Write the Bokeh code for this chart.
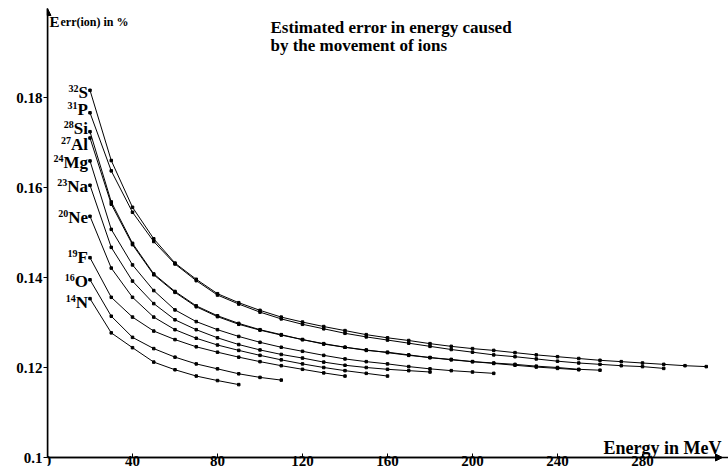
from bokeh.plotting import figure
from bokeh.models import Range1d, FixedTicker, Label, Arrow, NormalHead
from bokeh.embed import file_html
from bokeh.resources import INLINE
from bokeh.core.properties import value

FONT = "Liberation Serif"

# ---------------- data ----------------
x_ticks = [0, 40, 80, 120, 160, 200, 240, 280]
y_ticks = [0.1, 0.12, 0.14, 0.16, 0.18]
y_tick_labels = ["0.1", "0.12", "0.14", "0.16", "0.18"]

masses = ["14", "16", "19", "20", "23", "24", "27", "28", "31", "32"]
symbols = ["N", "O", "F", "Ne", "Na", "Mg", "Al", "Si", "P", "S"]

energy_N14 = [20, 30, 40, 50, 60, 70, 80, 90]
err_N14 = [0.1353, 0.1277, 0.1244, 0.1212, 0.1195, 0.1181, 0.1171, 0.1162]

energy_O16 = [20, 30, 40, 50, 60, 70, 80, 90, 100, 110]
err_O16 = [0.1395, 0.1314, 0.1267, 0.1242, 0.1223, 0.1208, 0.1197, 0.1186, 0.1178, 0.1172]

energy_F19 = [20, 30, 40, 50, 60, 70, 80, 90, 100, 110, 120, 130, 140]
err_F19 = [0.1444, 0.1356, 0.1312, 0.1281, 0.1262, 0.1246, 0.1234, 0.1223, 0.1213, 0.1204,
           0.1196, 0.1188, 0.1181]

energy_Ne20 = [20, 30, 40, 50, 60, 70, 80, 90, 100, 110, 120, 130, 140, 150, 160]
err_Ne20 = [0.1536, 0.1421, 0.1356, 0.1312, 0.1284, 0.1265, 0.1250, 0.1238, 0.1227, 0.1217,
            0.1208, 0.1200, 0.1193, 0.1187, 0.1181]

energy_Na23 = [20, 30, 40, 50, 60, 70, 80, 90, 100, 110, 120, 130, 140, 150, 160, 170, 180]
err_Na23 = [0.1605, 0.1467, 0.1392, 0.1342, 0.1306, 0.1284, 0.1266, 0.1251, 0.1239, 0.1229,
            0.1221, 0.1212, 0.1205, 0.1200, 0.1196, 0.1193, 0.1190]

energy_Mg24 = [20, 30, 40, 50, 60, 70, 80, 90, 100, 110, 120, 130, 140, 150, 160, 170, 180,
               190, 200, 210]
err_Mg24 = [0.1659, 0.1507, 0.1428, 0.1371, 0.1328, 0.1302, 0.1284, 0.1269, 0.1256, 0.1245,
            0.1236, 0.1227, 0.1219, 0.1213, 0.1208, 0.1202, 0.1197, 0.1193, 0.1190, 0.1187]

energy_Al27 = [20, 30, 40, 50, 60, 70, 80, 90, 100, 110, 120, 130, 140, 150, 160, 170, 180,
               190, 200, 210, 220, 230, 240, 250]
err_Al27 = [0.1710, 0.1563, 0.1473, 0.1406, 0.1367, 0.1335, 0.1313, 0.1296, 0.1283, 0.1272,
            0.1262, 0.1252, 0.1245, 0.1238, 0.1234, 0.1228, 0.1222, 0.1217, 0.1213, 0.1209,
            0.1205, 0.1201, 0.1198, 0.1195]

energy_Si28 = [20, 30, 40, 50, 60, 70, 80, 90, 100, 110, 120, 130, 140, 150, 160, 170, 180,
               190, 200, 210, 220, 230, 240, 250, 260]
err_Si28 = [0.1724, 0.1568, 0.1476, 0.1408, 0.1369, 0.1337, 0.1315, 0.1298, 0.1284, 0.1273,
            0.1262, 0.1253, 0.1245, 0.1239, 0.1233, 0.1227, 0.1222, 0.1218, 0.1213, 0.1210,
            0.1207, 0.1203, 0.1200, 0.1196, 0.1194]

energy_P31 = [20, 30, 40, 50, 60, 70, 80, 90, 100, 110, 120, 130, 140, 150, 160, 170, 180,
              190, 200, 210, 220, 230, 240, 250, 260, 270, 280, 290]
err_P31 = [0.1766, 0.1637, 0.1545, 0.1480, 0.1430, 0.1393, 0.1361, 0.1341, 0.1323, 0.1308,
           0.1296, 0.1286, 0.1276, 0.1268, 0.1261, 0.1254, 0.1247, 0.1240, 0.1234, 0.1228,
           0.1224, 0.1219, 0.1214, 0.1210, 0.1207, 0.1204, 0.1202, 0.1198]

energy_S32 = [20, 30, 40, 50, 60, 70, 80, 90, 100, 110, 120, 130, 140, 150, 160, 170, 180,
              190, 200, 210, 220, 230, 240, 250, 260, 270, 280, 290, 300, 310]
err_S32 = [0.1816, 0.1660, 0.1556, 0.1486, 0.1432, 0.1396, 0.1364, 0.1344, 0.1327, 0.1312,
           0.1301, 0.1291, 0.1282, 0.1273, 0.1266, 0.1260, 0.1253, 0.1247, 0.1242, 0.1238,
           0.1233, 0.1228, 0.1224, 0.1220, 0.1216, 0.1213, 0.1210, 0.1207, 0.1204, 0.1202]

series = [
    (energy_N14, err_N14), (energy_O16, err_O16), (energy_F19, err_F19),
    (energy_Ne20, err_Ne20), (energy_Na23, err_Na23), (energy_Mg24, err_Mg24),
    (energy_Al27, err_Al27), (energy_Si28, err_Si28), (energy_P31, err_P31),
    (energy_S32, err_S32),
]

# ---------------- layout ----------------
W, H = 728, 472
LEFT = 47                 # frame left edge (px)
BASE = 457                # pixel row of the x axis (value 0.1)
PX_PER_X = 2.125          # pixels per MeV
PX_PER_Y = 4500.0         # pixels per unit of error
X_END = (W - LEFT) / PX_PER_X
Y_START = 0.1 - (H - BASE) / PX_PER_Y
Y_END = Y_START + H / PX_PER_Y
X_ARROW = (722 - LEFT) / PX_PER_X
Y_ARROW = 0.1 + (BASE - 8) / PX_PER_Y
TXT_SHIFT = 5             # labels render a few px lower than the requested baseline

# vertical nudges (px, + = down) of each ion label relative to its curve start
label_dy = [4, 2, 0, 1, 1, 2, 6, -3, -3, 2]

def ydata(py):
    return 0.1 + (BASE - py + TXT_SHIFT) / PX_PER_Y

def xdata(px):
    return (px - LEFT) / PX_PER_X

p = figure(width=W, height=H, output_backend="svg", toolbar_location=None,
           x_range=Range1d(0, X_END), y_range=Range1d(Y_START, Y_END),
           min_border_left=LEFT, min_border_right=0, min_border_top=0, min_border_bottom=0)
p.grid.visible = False
p.outline_line_color = None
p.background_fill_color = "white"
p.border_fill_color = "white"

for ax in (p.xaxis, p.yaxis):
    ax.axis_label = None
    ax.axis_line_color = "black"
    ax.axis_line_width = 1.5
    ax.major_tick_line_color = "black"
    ax.major_tick_line_width = 1
    ax.minor_tick_line_color = None
    ax.major_label_text_font = FONT
    ax.major_label_text_font_style = "bold"
    ax.major_label_text_font_size = "15px"
    ax.major_label_text_color = "black"

p.xaxis.fixed_location = 0.1
p.xaxis.ticker = FixedTicker(ticks=x_ticks)
p.xaxis.major_tick_in = 4
p.xaxis.major_tick_out = 0
p.xaxis.major_label_standoff = -2

p.yaxis.ticker = FixedTicker(ticks=y_ticks)
p.yaxis.bounds = (0.1, Y_ARROW)
p.yaxis.major_label_overrides = {t: l for t, l in zip(y_ticks, y_tick_labels)}
p.yaxis.major_tick_in = 0
p.yaxis.major_tick_out = 4
p.yaxis.major_label_standoff = 1

# axis arrows
p.add_layout(Arrow(end=NormalHead(size=7, fill_color="black", line_color="black"),
                   x_start=0, y_start=0.1, x_end=0, y_end=Y_ARROW,
                   line_color="black", line_width=1.5))
p.add_layout(Arrow(end=NormalHead(size=7, fill_color="black", line_color="black"),
                   x_start=0, y_start=0.1, x_end=X_ARROW, y_end=0.1,
                   line_color="black", line_width=1.5))

# curves
for e, v in series:
    p.line(e, v, line_color="black", line_width=1)
    p.scatter(e, v, marker="square", size=2.5, color="black")

# ion labels (mass number as superscript + element symbol)
em = {"S": 0.556, "P": 0.611, "i": 0.278, "A": 0.722, "l": 0.278, "M": 0.944, "g": 0.5,
      "N": 0.722, "a": 0.5, "e": 0.444, "F": 0.611, "O": 0.778}
SYM_SIZE = 17
for (e, v), m, s, dy in zip(series, masses, symbols, label_dy):
    w = sum(em[c] for c in s) * SYM_SIZE
    p.text(x=[e[0]], y=[v[0]], text=[s], text_font=value(FONT), text_font_style="bold",
           text_font_size=f"{SYM_SIZE}px", text_align="right", text_baseline="middle",
           x_offset=-2, y_offset=dy, text_color="black")
    p.text(x=[e[0]], y=[v[0]], text=[m], text_font=value(FONT), text_font_style="bold",
           text_font_size="10px", text_align="right", text_baseline="middle",
           x_offset=-2 - w, y_offset=dy - 4, text_color="black")

# texts
p.add_layout(Label(x=xdata(270), y=ydata(32),
                   text="Estimated error in energy caused",
                   text_font=FONT, text_font_style="bold", text_font_size="17px",
                   text_baseline="alphabetic", text_color="black"))
p.add_layout(Label(x=xdata(270), y=ydata(50),
                   text="by  the  movement of  ions",
                   text_font=FONT, text_font_style="bold", text_font_size="17px",
                   text_baseline="alphabetic", text_color="black"))
p.add_layout(Label(x=xdata(49), y=ydata(26), text="E",
                   text_font=FONT, text_font_style="bold", text_font_size="15px",
                   text_baseline="alphabetic", text_color="black"))
p.add_layout(Label(x=xdata(60), y=ydata(26), text="err(ion) in %",
                   text_font=FONT, text_font_style="bold", text_font_size="12px",
                   text_baseline="alphabetic", text_color="black"))
p.add_layout(Label(x=xdata(721), y=ydata(452), text="Energy in MeV",
                   text_font=FONT, text_font_style="bold", text_font_size="18px",
                   text_align="right", text_baseline="alphabetic", text_color="black"))

open("out.html", "w").write(file_html(p, INLINE))
